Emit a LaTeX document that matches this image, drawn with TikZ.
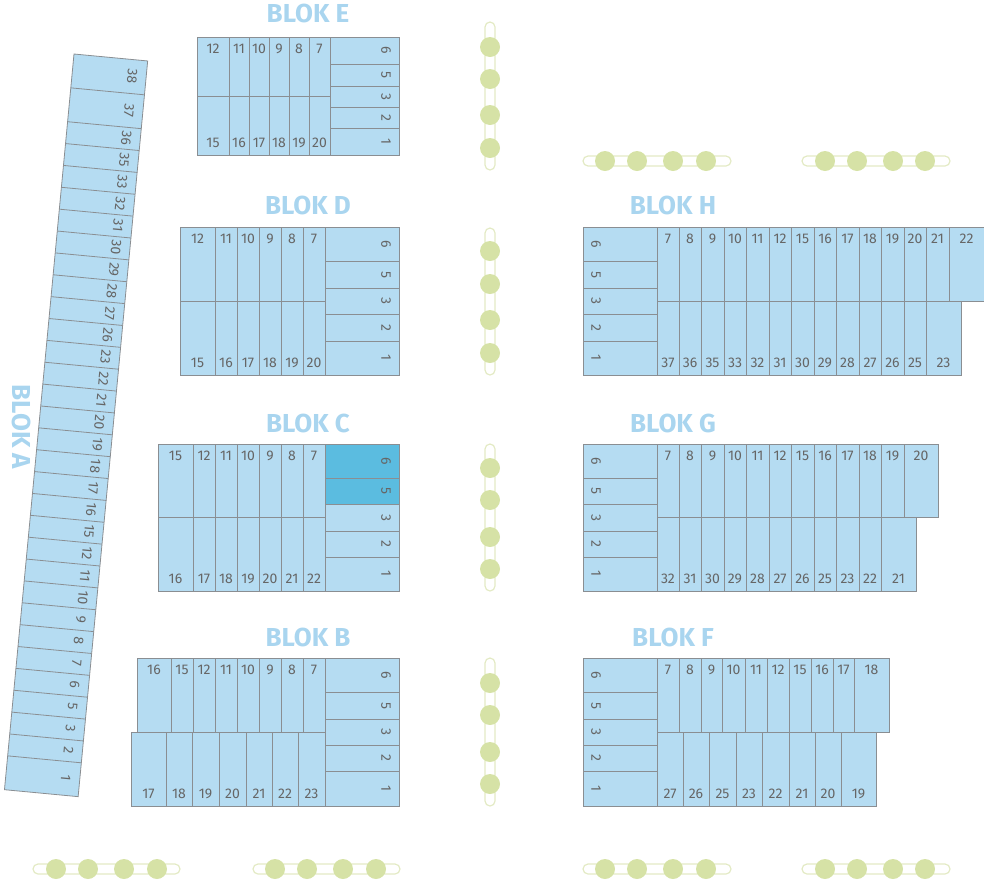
\documentclass[tikz,border=0pt]{standalone}
\usepackage{fontspec}
\setmainfont{Fira Sans}
\definecolor{lotfill}{HTML}{B5DCF2}
\definecolor{lotline}{HTML}{8A8E92}
\definecolor{lothot}{HTML}{5BBCE0}
\definecolor{numgray}{HTML}{666666}
\definecolor{titleblue}{HTML}{A9D5EF}
\definecolor{treegreen}{HTML}{D6E2A6}
\definecolor{treeline}{HTML}{E3EAC4}
\tikzset{
  lot/.style={draw=lotline, fill=lotfill, line width=0.8pt},
  hotlot/.style={draw=lotline, fill=lothot, line width=0.8pt},
  num/.style={text=numgray, font=\fontsize{14}{14}\selectfont, inner sep=0pt},
  sidenum/.style={num, rotate=-90},
  blocktitle/.style={text=titleblue, font=\fontsize{26}{26}\selectfont\bfseries, inner sep=0pt},
  treeroad/.style={draw=treeline, line width=1.2pt, rounded corners=5pt},
  tree/.style={fill=treegreen}
}
% row of lots with label at top (t) or bottom (b): x1/x2/label
\newcommand{\toprow}[3]{% y1, y2, list
  \foreach \xa/\xb/\t in {#3}{
    \draw[lot] (\xa,#1) rectangle (\xb,#2);
    \node[num, anchor=north] at ({(\xa+\xb)/2},#1+7) {\t};
  }}
\newcommand{\botrow}[3]{%
  \foreach \xa/\xb/\t in {#3}{
    \draw[lot] (\xa,#1) rectangle (\xb,#2);
    \node[num, anchor=south] at ({(\xa+\xb)/2},#2-7) {\t};
  }}
% column of lots: x1, x2, label x, list y1/y2/label
\newcommand{\lotcol}[4]{%
  \foreach \ya/\yb/\t in {#4}{
    \draw[lot] (#1,\ya) rectangle (#2,\yb);
    \node[sidenum] at (#3,{(\ya+\yb)/2}) {\t};
  }}
\newcommand{\treesv}[4]{% x, y1, y2, list
  \draw[treeroad] (#1-5,#2) rectangle (#1+5,#3);
  \foreach \c in {#4} \fill[tree] (#1,\c) circle (10);}
\newcommand{\treesh}[4]{% y, x1, x2, list
  \draw[treeroad] (#2,#1-5) rectangle (#3,#1+5);
  \foreach \c in {#4} \fill[tree] (\c,#1) circle (10);}
\begin{document}
\begin{tikzpicture}[x=1pt, y=-1pt]
\useasboundingbox (0,0) rectangle (984,879);

% Blok A
\begin{scope}[shift={(74,54)}, rotate=-5.4]
  \draw[lot] (0,0) rectangle (74,739);
  \foreach \v in {34,68} \draw[lotline, line width=0.8pt] (0,\v) -- (74,\v);
  \foreach \k in {1,...,29} \draw[lotline, line width=0.8pt] (0,{68+\k*21.966}) -- (74,{68+\k*21.966});
  \node[num, rotate=-95.4] at (60,17) {38};
  \node[num, rotate=-95.4] at (60,51) {37};
  \foreach \t [count=\i] in {36,35,33,32,31,30,29,28,27,26,23,22,21,20,19,18,17,16,15,12,11,10,9,8,7,6,5,3,2}
    \node[num, rotate=-95.4] at (60,{68+(\i-0.5)*21.966}) {\t};
  \node[num, rotate=-95.4] at (60,722) {1};
\end{scope}
\node[blocktitle, rotate=-90] (titleA) at (22,427) {BLOK A};

% Blok E
\node[blocktitle] (titleE) at (308,13) {BLOK E};
\toprow{37}{96}{197/229/12, 229/249/11, 249/269/10, 269/289/9, 289/309/8, 309/330/7}
\botrow{96}{155}{197/229/15, 229/249/16, 249/269/17, 269/289/18, 289/309/19, 309/330/20}
\lotcol{330}{399}{386}{37/64/6, 64/86/5, 86/107/3, 107/128/2, 128/155/1}

% Blok D
\node[blocktitle] (titleD) at (308,205) {BLOK D};
\toprow{227}{301}{180/215/12, 215/237/11, 237/259/10, 259/281/9, 281/303/8, 303/325/7}
\botrow{301}{375}{180/215/15, 215/237/16, 237/259/17, 259/281/18, 281/303/19, 303/325/20}
\lotcol{325}{399}{386}{227/261/6, 261/288/5, 288/314/3, 314/341/2, 341/375/1}

% Blok C
\node[blocktitle] (titleC) at (308,423) {BLOK C};
\toprow{444}{517}{158/193/15, 193/215/12, 215/237/11, 237/259/10, 259/281/9, 281/303/8, 303/325/7}
\botrow{517}{591}{158/193/16, 193/215/17, 215/237/18, 237/259/19, 259/281/20, 281/303/21, 303/325/22}
\draw[hotlot] (325,444) rectangle (399,478);
\draw[hotlot] (325,478) rectangle (399,504);
\node[sidenum] at (386,461) {6};
\node[sidenum] at (386,491) {5};
\lotcol{325}{399}{386}{504/531/3, 531/557/2, 557/591/1}

% Blok B
\node[blocktitle] (titleB) at (308,637) {BLOK B};
\toprow{658}{732}{137/171/16, 171/193/15, 193/215/12, 215/237/11, 237/259/10, 259/281/9, 281/303/8, 303/325/7}
\botrow{732}{806}{131/166/17, 166/192/18, 192/219/19, 219/246/20, 246/272/21, 272/298/22, 298/325/23}
\lotcol{325}{399}{386}{658/692/6, 692/719/5, 719/745/3, 745/771/2, 771/806/1}

% Blok H
\node[blocktitle] (titleH) at (673,205) {BLOK H};
\lotcol{583}{657}{596}{227/261/6, 261/288/5, 288/314/3, 314/341/2, 341/375/1}
\toprow{227}{301}{657/679/7, 679/701/8, 701/724/9, 724/746/10, 746/769/11, 769/791/12, 791/814/15, 814/836/16, 836/859/17, 859/881/18, 881/904/19, 904/926/20, 926/949/21, 949/984/22}
\botrow{301}{375}{657/679/37, 679/701/36, 701/724/35, 724/746/33, 746/769/32, 769/791/31, 791/814/30, 814/836/29, 836/859/28, 859/881/27, 881/904/26, 904/926/25, 926/961/23}

% Blok G
\node[blocktitle] (titleG) at (673,423) {BLOK G};
\lotcol{583}{657}{596}{444/478/6, 478/504/5, 504/531/3, 531/557/2, 557/591/1}
\toprow{444}{517}{657/679/7, 679/701/8, 701/724/9, 724/746/10, 746/769/11, 769/791/12, 791/814/15, 814/836/16, 836/859/17, 859/881/18, 881/904/19, 904/938/20}
\botrow{517}{591}{657/679/32, 679/701/31, 701/724/30, 724/746/29, 746/769/28, 769/791/27, 791/814/26, 814/836/25, 836/859/23, 859/881/22, 881/916/21}

% Blok F
\node[blocktitle] (titleF) at (673,637) {BLOK F};
\lotcol{583}{657}{596}{658/692/6, 692/719/5, 719/745/3, 745/771/2, 771/806/1}
\toprow{658}{732}{657/679/7, 679/701/8, 701/722/9, 722/745/10, 745/767/11, 767/789/12, 789/811/15, 811/833/16, 833/854/17, 854/889/18}
\botrow{732}{806}{657/683/27, 683/709/26, 709/736/25, 736/762/23, 762/789/22, 789/815/21, 815/841/20, 841/876/19}

% trees
\treesv{490}{22}{170}{47,79,115,148}
\treesv{490}{228}{375}{251,284,320,353}
\treesv{490}{444}{591}{468,500,537,569}
\treesv{490}{658}{806}{683,715,752,784}
\treesh{161}{583}{731}{605,637,673,706}
\treesh{161}{802}{950}{825,857,893,925}
\treesh{869}{33}{180}{56,88,124,157}
\treesh{869}{253}{400}{275,307,343,376}
\treesh{869}{583}{731}{605,637,673,706}
\treesh{869}{802}{950}{825,857,893,925}
\end{tikzpicture}
\end{document}
